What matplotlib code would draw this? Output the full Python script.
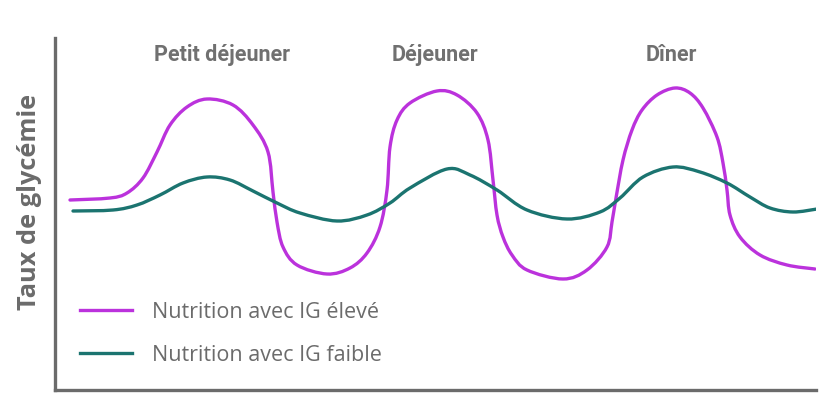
import matplotlib.pyplot as plt
from matplotlib.path import Path
from matplotlib.patches import PathPatch
from matplotlib.lines import Line2D

# Courbes (x = temps, y = niveau, en px de l'image)
x_ig_eleve = [70, 110, 127, 143, 157, 170, 187, 207, 233, 253, 268, 273, 277, 283,
              297, 327, 350, 367, 380, 387, 390, 397, 410, 437, 457, 477, 488, 493,
              497, 503, 512, 527, 563, 587, 607, 612, 616, 623, 632, 642, 657, 675,
              690, 703, 717, 723, 727, 730, 740, 760, 787, 815]
y_ig_eleve = [200, 198, 193, 178, 152, 125, 107, 99, 105, 125, 152, 192, 222, 247,
              265, 274, 268, 253, 227, 190, 147, 120, 103, 91, 95, 113, 140, 180,
              215, 237, 255, 270, 279, 270, 247, 222, 198, 160, 130, 110, 95, 88,
              93, 108, 137, 163, 190, 215, 237, 255, 265, 269]

x_ig_faible = [73, 113, 137, 160, 183, 207, 230, 253, 277, 300, 337, 367, 390, 410,
               447, 470, 497, 527, 567, 600, 620, 643, 673, 700, 727, 750, 770, 793,
               817]
y_ig_faible = [211, 210, 205, 195, 183, 177, 180, 191, 203, 213, 221, 215, 203, 188,
               169, 175, 190, 210, 219, 212, 198, 177, 167, 172, 183, 197, 208, 212,
               209]

repas = ["Petit déjeuner", "Déjeuner", "Dîner"]
repas_x = [222, 435, 671]

labels = ["Nutrition avec IG élevé", "Nutrition avec IG faible"]
couleurs = ["#bb32dc", "#1b7470"]
gris = "#6b6b6b"


def chemin_lisse(xs, ys):
    # tracé lissé (Catmull-Rom -> Bézier) passant par les points relevés
    pts = list(zip(xs, ys))
    verts = [pts[0]]
    codes = [Path.MOVETO]
    for i in range(len(pts) - 1):
        p0 = pts[max(i - 1, 0)]
        p1 = pts[i]
        p2 = pts[i + 1]
        p3 = pts[min(i + 2, len(pts) - 1)]
        c1 = (p1[0] + (p2[0] - p0[0]) / 6, p1[1] + (p2[1] - p0[1]) / 6)
        c2 = (p2[0] - (p3[0] - p1[0]) / 6, p2[1] - (p3[1] - p1[1]) / 6)
        verts += [c1, c2, p2]
        codes += [Path.CURVE4] * 3
    return Path(verts, codes)


W, H = 840, 420
fig = plt.figure(figsize=(W / 100, H / 100), dpi=100, facecolor="white")
ax = fig.add_axes([55 / W, (H - 390) / H, (816 - 55) / W, (390 - 38) / H])
ax.set_xlim(55, 816)
ax.set_ylim(390, 38)

for xs, ys, c in [(x_ig_eleve, y_ig_eleve, couleurs[0]),
                  (x_ig_faible, y_ig_faible, couleurs[1])]:
    ax.add_patch(PathPatch(chemin_lisse(xs, ys), facecolor="none", edgecolor=c,
                           lw=2.4, capstyle="round", joinstyle="round"))

for nom, xr in zip(repas, repas_x):
    ax.text(xr, 55, nom, ha="center", va="center", fontsize=15.5,
            fontweight="bold", color="#707070", family="Roboto")

for s in ["top", "right"]:
    ax.spines[s].set_visible(False)
for s in ["left", "bottom"]:
    ax.spines[s].set_color(gris)
    ax.spines[s].set_linewidth(2.4)
ax.set_xticks([])
ax.set_yticks([])

fig.text(30 / W, 1 - 202 / H, "Taux de glycémie", rotation=90, ha="center",
         va="center", fontsize=18.3, fontweight="bold", color=gris, family="Open Sans")

handles = [Line2D([], [], color=c, lw=2.4) for c in couleurs]
leg = ax.legend(handles, labels, loc="upper left", bbox_to_anchor=(80 / W, 1 - 302 / H),
                bbox_transform=fig.transFigure, frameon=False,
                prop={"family": "Open Sans", "size": 15.5},
                handlelength=2.42, handletextpad=0.93, labelspacing=1.0,
                borderpad=0, borderaxespad=0)
for t in leg.get_texts():
    t.set_color(gris)

fig.savefig("out.png", dpi=100, facecolor="white")
